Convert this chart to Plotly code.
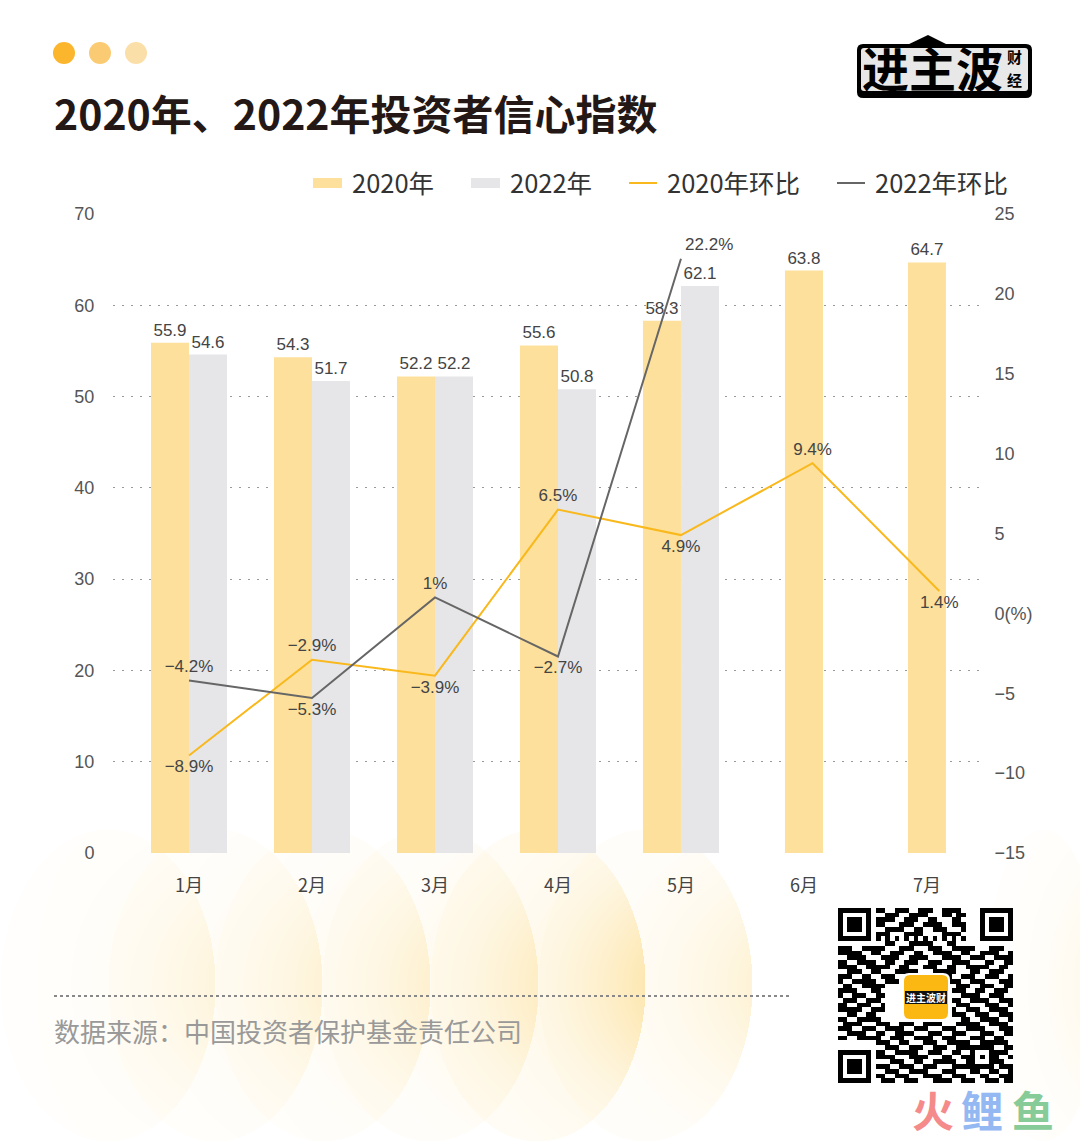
import base64
import struct
import zlib

import numpy as np
import plotly.graph_objects as go

# --------- Données -----------
months = ['1月', '2月', '3月', '4月', '5月', '6月', '7月']
month_pos = [0, 1, 2, 3, 4, 5, 6]
line_pos = [0, 1, 2, 3, 4, 5.07, 6.1]
index_2020 = [55.9, 54.3, 52.2, 55.6, 58.3, 63.8, 64.7]
index_2022 = [54.6, 51.7, 52.2, 50.8, 62.1, None, None]
mom_2020 = [-8.9, -2.9, -3.9, 6.5, 4.9, 9.4, 1.4]
mom_2022 = [-4.2, -5.3, 1, -2.7, 22.2, None, None]
mom_2020_labels = ['−8.9%', '−2.9%', '−3.9%', '6.5%', '4.9%', '9.4%', '1.4%']
mom_2022_labels = ['−4.2%', '−5.3%', '1%', '−2.7%', '22.2%', '', '']
left_ticks = [0, 10, 20, 30, 40, 50, 60, 70]
right_ticks = [-15, -10, -5, 0, 5, 10, 15, 20, 25]
right_tick_labels = ['−15', '−10', '−5', '0(%)', '5', '10', '15', '20', '25']

# QR code relevé à l'oeil (les trois repères sont ajoutés plus bas)
qr_rows = [
    '0000000011001110011100111100000000000',
    '0000000000111001111000110110000000000',
    '0000000011110011100110001100000000000',
    '0000000011000111001111001110000000000',
    '0000000000111100110011100010000000000',
    '0000000011100011110000111100000000000',
    '0000000010101010101010101010000000000',
    '0000000000110001111100011000000000000',
    '1110011111000111000111001111100011100',
    '1111100110011100110011110011001111001',
    '0011110001111001111000111100111001111',
    '1100111100110011100111001111000110011',
    '1111001111100110001110011001111100110',
    '0011100110001111100011111000110011100',
    '1110011001110000111100110011100111001',
    '1001111100111000111000011100111000111',
    '0110011111000000000000000111001110011',
    '1111000110000000000000001110011001110',
    '1001110011000000000000000011110011100',
    '0111001110000000000000001100111100111',
    '1100111001000000000000000111000111001',
    '1111100111000000000000001001110011110',
    '0011001100000000000000001110011100111',
    '1100111110000000000000000011001111001',
    '0111100011100111001111000111110011110',
    '1110011100111100111000111001111000111',
    '0011110011001111000111001110001110011',
    '1100111110011100111100111000111001100',
    '0000000011100110001110011111001111110',
    '0000000000111001110011100111111110011',
    '0000000011001111100111001100100011110',
    '0000000011110001111000110011101011001',
    '0000000000011100110011111001100011100',
    '0000000011100111001110001111111110111',
    '0000000000111001111000111000110011001',
    '0000000011001110001111001110001100111',
    '0000000001110011100011110011100111011',
]

WIDTH = 1080
HEIGHT = 1141


def px_x(x):
    return x / WIDTH


def px_y(y):
    return 1 - y / HEIGHT


def make_petals():
    # fond en pétales : ellipses avec un dégradé qui monte vers la droite
    top, bottom = 830, 1141
    xs, ys = np.meshgrid(np.arange(0, WIDTH), np.arange(top, bottom))
    alpha = np.zeros(xs.shape)
    petals = [(0, 215, 0.20), (108, 322, 0.24), (215, 430, 0.28), (322, 538, 0.32),
              (430, 645, 0.52), (538, 752, 0.30), (985, 1100, 0.18)]
    for x0, x1, strength in petals:
        cx, a = (x0 + x1) / 2, (x1 - x0) / 2
        d = ((xs - cx) / a) ** 2 + ((ys - 985) / 156) ** 2
        ramp = np.clip((xs - x0) / (x1 - x0), 0, 1) ** 2.2
        fade = np.exp(-((ys - 985) / 110) ** 2)
        alpha = np.where(d < 1, 1 - (1 - alpha) * (1 - strength * (0.12 + 0.88 * ramp * fade)), alpha)
    rgba = np.zeros(xs.shape + (4,), dtype=np.uint8)
    rgba[..., 0], rgba[..., 1], rgba[..., 2] = 252, 214, 120
    rgba[..., 3] = (alpha * 255).astype(np.uint8)
    h, w = xs.shape
    raw = b''.join(b'\x00' + rgba[i].tobytes() for i in range(h))

    def chunk(tag, data):
        return struct.pack('>I', len(data)) + tag + data + struct.pack('>I', zlib.crc32(tag + data))

    png = b'\x89PNG\r\n\x1a\n' + chunk(b'IHDR', struct.pack('>IIBBBBB', w, h, 8, 6, 0, 0, 0))
    png += chunk(b'IDAT', zlib.compress(raw, 9)) + chunk(b'IEND', b'')
    return 'data:image/png;base64,' + base64.b64encode(png).decode(), top, bottom


def make_qr():
    qr = np.array([[int(c) for c in row] for row in qr_rows])
    for r0, c0 in [(0, 0), (0, 30), (30, 0)]:
        qr[r0:r0 + 7, c0:c0 + 7] = 1
        qr[r0 + 1:r0 + 6, c0 + 1:c0 + 6] = 0
        qr[r0 + 2:r0 + 5, c0 + 2:c0 + 5] = 1
    return qr


def rounded_rect(x0, y0, x1, y1, r):
    x0, x1 = px_x(x0), px_x(x1)
    y0, y1 = px_y(y0), px_y(y1)
    rx, ry = r / WIDTH, r / HEIGHT
    return (f'M {x0 + rx} {y0} L {x1 - rx} {y0} Q {x1} {y0} {x1} {y0 - ry} L {x1} {y1 + ry} '
            f'Q {x1} {y1} {x1 - rx} {y1} L {x0 + rx} {y1} Q {x0} {y1} {x0} {y1 + ry} '
            f'L {x0} {y0 - ry} Q {x0} {y0} {x0 + rx} {y0} Z')


def polygon(points):
    return 'M ' + ' L '.join(f'{px_x(x)} {px_y(y)}' for x, y in points) + ' Z'


label_font = dict(family='Liberation Sans, Noto Sans CJK SC', size=17, color='#444444')
hidden_marker = dict(size=5, opacity=0)
bar_w = 0.309

fig = go.Figure()
fig.add_trace(go.Bar(x=month_pos, y=index_2020, name='2020年', width=bar_w,
                     offset=[-bar_w] * 5 + [-bar_w / 2] * 2,
                     marker=dict(color='#FDE09B', line=dict(width=0)),
                     text=[str(v) for v in index_2020], textposition='outside',
                     textangle=0, constraintext='none', cliponaxis=False, textfont=label_font))
fig.add_trace(go.Bar(x=month_pos, y=index_2022, name='2022年', width=bar_w, offset=0,
                     marker=dict(color='#E6E6E8', line=dict(width=0)),
                     text=[str(v) if v else '' for v in index_2022], textposition='outside',
                     textangle=0, constraintext='none', cliponaxis=False, textfont=label_font))
fig.add_trace(go.Scatter(x=line_pos, y=mom_2020, name='2020年环比', yaxis='y2', mode='lines+markers+text',
                         line=dict(color='#F9B81C', width=2), marker=hidden_marker,
                         text=mom_2020_labels, textfont=label_font,
                         textposition=['bottom center', 'top center', 'bottom center', 'top center',
                                       'bottom center', 'top center', 'bottom center'], cliponaxis=False))
fig.add_trace(go.Scatter(x=line_pos, y=mom_2022, name='2022年环比', yaxis='y2', mode='lines+markers+text',
                         line=dict(color='#666666', width=2), marker=hidden_marker,
                         text=mom_2022_labels, textfont=label_font,
                         textposition=['top center', 'bottom center', 'top center', 'bottom center',
                                       'top right', 'top center', 'top center'], cliponaxis=False))
fig.add_trace(go.Heatmap(z=make_qr(), xaxis='x3', yaxis='y3', colorscale=[[0, '#FFFFFF'], [1, '#000000']],
                         showscale=False, hoverinfo='skip'))

petal_src, petal_top, petal_bottom = make_petals()


def paper_shape(**kw):
    return dict(xref='paper', yref='paper', layer='above', **kw)


shapes = []
# points en haut à gauche
for cx, color in [(64, '#FBB62E'), (100, '#FBCB74'), (136, '#FBDFA8')]:
    shapes.append(paper_shape(type='circle', x0=px_x(cx - 11), x1=px_x(cx + 11), y0=px_y(64), y1=px_y(42),
                              fillcolor=color, line=dict(width=0)))
# logo
shapes.append(paper_shape(type='path', path=polygon([(905, 46), (928, 35), (950, 46)]),
                          fillcolor='#000000', line=dict(width=0)))
shapes.append(paper_shape(type='path', path=rounded_rect(857, 44, 1032, 98, 6),
                          fillcolor='#000000', line=dict(width=0)))
shapes.append(paper_shape(type='path', path=rounded_rect(861, 48, 1028, 91, 3),
                          fillcolor='#E8E8E8', line=dict(width=0)))
# légende dessinée à la main pour garder les grandes pastilles
for x0, color in [(313, '#FDE09B'), (471, '#E6E6E8')]:
    shapes.append(paper_shape(type='rect', x0=px_x(x0), x1=px_x(x0 + 29), y0=px_y(188), y1=px_y(178),
                              fillcolor=color, line=dict(width=0)))
for x0, color in [(629, '#F9B81C'), (837, '#666666')]:
    shapes.append(paper_shape(type='line', x0=px_x(x0), x1=px_x(x0 + 28), y0=px_y(183), y1=px_y(183),
                              line=dict(color=color, width=2)))
# ligne de séparation
shapes.append(paper_shape(type='line', x0=px_x(54), x1=px_x(790), y0=px_y(996), y1=px_y(996),
                          line=dict(color='#888888', width=2, dash='3px,3px')))
# logo au centre du QR
shapes.append(paper_shape(type='path', path=rounded_rect(902, 973, 950, 1021, 7),
                          fillcolor='#FFFFFF', line=dict(width=0)))
shapes.append(paper_shape(type='path', path=rounded_rect(904, 975, 948, 1019, 6),
                          fillcolor='#FBB812', line=dict(width=0)))
shapes.append(paper_shape(type='rect', x0=px_x(905), x1=px_x(947), y0=px_y(1004), y1=px_y(991),
                          fillcolor='#111111', line=dict(width=0)))


def note(text, x, y, size, color, family='Noto Sans CJK SC', xanchor='left', bold=False):
    if bold:
        text = f'<b>{text}</b>'
    return dict(text=text, x=px_x(x), y=px_y(y), xref='paper', yref='paper', showarrow=False,
                xanchor=xanchor, yanchor='middle', font=dict(family=family, size=size, color=color))


annotations = [
    note('2020年、2022年投资者信心指数', 52, 112, 41, '#231815', bold=True),
    note('2020年', 350, 181, 25.5, '#333333'),
    note('2022年', 508, 181, 25.5, '#333333'),
    note('2020年环比', 665, 181, 25.5, '#333333'),
    note('2022年环比', 873, 181, 25.5, '#333333'),
    note('数据来源：中国投资者保护基金责任公司', 52, 1030, 26, '#999999'),
    note('进主波', 860, 66, 47, '#000000', bold=True),
    note('财', 1014, 56, 15, '#000000', xanchor='center', bold=True),
    note('经', 1014, 79, 15, '#000000', xanchor='center', bold=True),
    note('进主波财', 926, 997, 10, '#FFFFFF', xanchor='center', bold=True),
    note('火', 933, 1108, 42, '#F58A8A', xanchor='center', bold=True),
    note('鲤', 982, 1108, 42, '#93B8F2', xanchor='center', bold=True),
    note('鱼', 1033, 1108, 42, '#86CB98', xanchor='center', bold=True),
]

tick_font = dict(family='Liberation Sans, Noto Sans CJK SC', size=18, color='#555555')

fig.update_layout(
    template='none',
    width=WIDTH, height=HEIGHT, margin=dict(l=0, r=0, t=0, b=0, pad=0), autosize=False,
    paper_bgcolor='#FFFFFF', plot_bgcolor='rgba(0,0,0,0)', barmode='overlay', showlegend=False,
    font=dict(family='Noto Sans CJK SC'),
    xaxis=dict(domain=[px_x(113), px_x(985)], range=[-0.618, 6.472], tickmode='array', tickvals=month_pos,
               ticktext=months, showgrid=False, zeroline=False, showline=False, ticks='outside', ticklen=16,
               automargin=False, tickcolor='rgba(0,0,0,0)',
               tickfont=dict(family='Noto Sans CJK SC', size=18, color='#444444')),
    yaxis=dict(domain=[px_y(853), px_y(214)], range=[0, 70], tickmode='array', tickvals=left_ticks,
               showgrid=True, gridcolor='#999999', griddash='2px,7px', gridwidth=1, zeroline=False, ticks='outside',
               automargin=False, ticklen=14, tickcolor='rgba(0,0,0,0)', tickfont=tick_font),
    yaxis2=dict(overlaying='y', side='right', range=[-15, 25], tickmode='array', tickvals=right_ticks,
                ticktext=right_tick_labels, showgrid=False, zeroline=False, ticks='outside', ticklen=5,
                automargin=False, tickcolor='rgba(0,0,0,0)', tickfont=tick_font),
    xaxis3=dict(domain=[px_x(838), px_x(1013)], anchor='y3', visible=False),
    yaxis3=dict(domain=[px_y(1083), px_y(908)], anchor='x3', visible=False, autorange='reversed'),
    images=[dict(source=petal_src, xref='paper', yref='paper', x=0, y=px_y(petal_top), sizex=1,
                 sizey=(petal_bottom - petal_top) / HEIGHT, sizing='stretch', xanchor='left', yanchor='top',
                 layer='below')],
    shapes=shapes, annotations=annotations,
)

fig.write_html("out.html", config=dict(displayModeBar=False), post_script="document.body.style.margin='0';")
